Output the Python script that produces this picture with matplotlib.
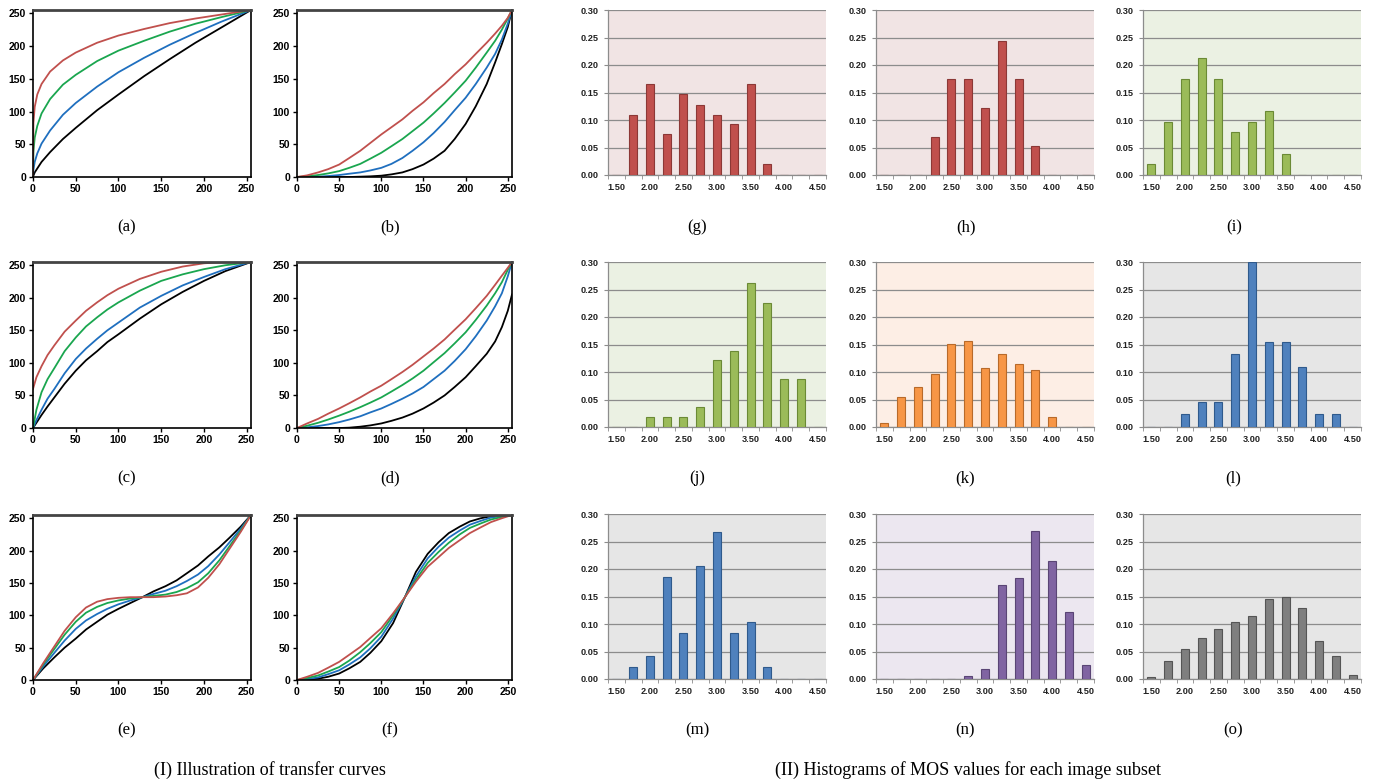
import matplotlib.pyplot as plt

W, H = 1374, 783

# ---- transfer curves (input level -> output level) ----
a_x = [0, 0.5, 2, 5, 10, 20, 35, 50, 75, 100, 130, 160, 190, 220, 255]
a_red = [0, 83, 107, 126, 142, 161, 178, 190, 205, 216, 226, 235, 242, 248, 255]
a_green = [0, 39, 60, 78, 97, 119, 141, 156, 177, 193, 208, 222, 234, 244, 255]
a_blue = [0, 11, 23, 36, 51, 71, 95, 113, 138, 160, 182, 202, 220, 237, 255]
a_black = [0, 2, 7, 13, 23, 38, 58, 75, 102, 126, 154, 180, 205, 228, 255]

b_x = [0, 12, 25, 37, 50, 62, 75, 87, 100, 112, 125, 137, 150, 162, 175, 187, 200, 212, 225, 235, 243, 250, 255]
b_red = [0, 2.5, 7, 12, 19, 29, 40, 52, 65, 76, 88, 101, 114, 128, 142, 157, 172, 188, 205, 219, 231, 243, 255]
b_green = [0, 1, 3, 5.5, 9, 14, 20, 28, 37, 47, 58, 70, 83, 97, 113, 129, 147, 167, 190, 208, 225, 242, 255]
b_blue = [0, 0, 0.5, 1.5, 3, 5, 7, 10, 14, 20, 29, 40, 53, 67, 84, 102, 121, 142, 167, 188, 210, 234, 255]
b_black = [0, 0, 0, 0, 0, 0, 0.5, 1, 2, 4, 7, 12, 19, 28, 40, 58, 81, 108, 142, 175, 203, 229, 255]

c_x = [0, 4, 10, 17, 25, 37, 50, 62, 75, 87, 100, 125, 150, 175, 200, 225, 255]
c_red = [60, 78, 95, 112, 127, 148, 165, 180, 193, 204, 214, 229, 240, 248, 253, 255, 255]
c_green = [0, 28, 55, 75, 92, 118, 139, 156, 170, 182, 193, 211, 226, 236, 244, 250, 255]
c_blue = [0, 12, 28, 45, 60, 84, 106, 122, 137, 150, 162, 185, 203, 219, 232, 244, 255]
c_black = [0, 8, 20, 33, 47, 68, 88, 104, 118, 132, 144, 168, 190, 209, 226, 241, 255]

d_x = [0, 12, 25, 37, 50, 62, 75, 87, 100, 112, 125, 137, 150, 162, 175, 187, 200, 212, 225, 235, 243, 250, 255]
d_red = [0, 7, 14, 22, 30, 38, 47, 56, 65, 75, 86, 97, 110, 122, 136, 151, 167, 184, 203, 220, 234, 246, 255]
d_green = [0, 3.5, 8, 13, 19, 25, 32, 39, 47, 56, 66, 76, 88, 101, 115, 130, 147, 166, 188, 207, 224, 243, 255]
d_blue = [0, 1, 3, 5.5, 9, 13, 18, 24, 30, 37, 45, 53, 63, 75, 88, 103, 121, 141, 165, 187, 207, 233, 255]
d_black = [0, 0, 0, 0, 0, 0.5, 2, 4, 7, 11, 16, 22, 30, 39, 50, 63, 78, 95, 114, 133, 155, 180, 205]

e_x = [0, 12, 25, 37, 50, 62, 75, 87, 100, 114, 128, 141, 155, 168, 180, 193, 205, 218, 230, 243, 255]
e_red = [0, 26, 52, 76, 97, 112, 121, 125, 127, 128, 128, 128, 129, 131, 134, 143, 158, 179, 203, 229, 255]
e_green = [0, 24, 48, 70, 90, 104, 113, 119, 123, 126, 128, 130, 132, 136, 142, 151, 165, 185, 207, 231, 255]
e_blue = [0, 21, 42, 61, 79, 92, 102, 110, 117, 123, 128, 133, 138, 145, 153, 163, 176, 194, 213, 234, 255]
e_black = [0, 18, 35, 50, 64, 78, 90, 101, 110, 119, 128, 137, 145, 154, 165, 177, 191, 205, 220, 237, 255]

f_x = [0, 12, 25, 37, 50, 62, 75, 87, 100, 114, 128, 141, 155, 168, 180, 193, 205, 218, 230, 243, 255]
f_red = [0, 5, 11, 19, 28, 39, 51, 65, 80, 103, 128, 152, 175, 190, 204, 216, 227, 236, 244, 250, 255]
f_green = [0, 3, 7, 13, 20, 30, 43, 57, 74, 100, 128, 155, 181, 198, 212, 225, 235, 242, 248, 252, 255]
f_blue = [0, 1.5, 4, 9, 15, 24, 35, 49, 67, 95, 128, 160, 188, 206, 220, 231, 240, 246, 251, 253.5, 255]
f_black = [0, 0.5, 2, 5, 10, 18, 28, 42, 60, 88, 128, 167, 195, 213, 227, 237, 245, 250, 253, 254.5, 255]

# ---- MOS histograms ----
mos_bins = ['1.50', '1.75', '2.00', '2.25', '2.50', '2.75', '3.00',
            '3.25', '3.50', '3.75', '4.00', '4.25', '4.50']
g_vals = [0, 0.110, 0.165, 0.075, 0.147, 0.128, 0.110, 0.092, 0.165, 0.020, 0, 0, 0]
h_vals = [0, 0, 0, 0.070, 0.174, 0.174, 0.122, 0.243, 0.174, 0.053, 0, 0, 0]
i_vals = [0.020, 0.097, 0.175, 0.213, 0.175, 0.078, 0.097, 0.117, 0.039, 0, 0, 0, 0]
j_vals = [0, 0, 0.018, 0.018, 0.018, 0.036, 0.122, 0.139, 0.261, 0.226, 0.087, 0.087, 0]
k_vals = [0.007, 0.054, 0.072, 0.097, 0.151, 0.157, 0.108, 0.133, 0.115, 0.103, 0.019, 0, 0]
l_vals = [0, 0, 0.023, 0.045, 0.045, 0.132, 0.300, 0.155, 0.155, 0.110, 0.023, 0.023, 0]
m_vals = [0, 0.022, 0.042, 0.185, 0.084, 0.205, 0.267, 0.084, 0.104, 0.022, 0, 0, 0]
n_vals = [0, 0, 0, 0, 0, 0.006, 0.019, 0.171, 0.184, 0.269, 0.214, 0.122, 0.025]
o_vals = [0.003, 0.033, 0.055, 0.074, 0.091, 0.103, 0.114, 0.145, 0.150, 0.130, 0.069, 0.041, 0.007]

RED, GREEN, BLUE = '#c0504d', '#1aa64f', '#1f6fbf'
serif = ['Liberation Serif', 'DejaVu Serif']
curve_font = {'family': 'Liberation Sans', 'weight': 'bold', 'size': 7.5}
hist_font = {'family': 'Liberation Sans', 'weight': 'bold', 'size': 6.6}

fig = plt.figure(figsize=(W / 100, H / 100), dpi=100)


def px_axes(left, top, right, bottom):
    return fig.add_axes([left / W, 1 - bottom / H, (right - left) / W, (bottom - top) / H])


def curve_panel(left, top, right, bottom, x, red, green, blue, black, label, cap_x, cap_y):
    ax = px_axes(left, top, right, bottom)
    ax.plot(x, black, color='black', lw=1.3)
    ax.plot(x, blue, color=BLUE, lw=1.3)
    ax.plot(x, green, color=GREEN, lw=1.3)
    ax.plot(x, red, color=RED, lw=1.3)
    ax.set_xlim(0, 255)
    ax.set_ylim(0, 255)
    ax.set_xticks([0, 50, 100, 150, 200, 250])
    ax.set_yticks([0, 50, 100, 150, 200, 250])
    for s in ax.spines.values():
        s.set_linewidth(1.2)
    ax.spines['top'].set_linewidth(2)
    ax.spines['top'].set_color('#444444')
    ax.tick_params(length=3, width=1, pad=2)
    for t in ax.get_xticklabels() + ax.get_yticklabels():
        t.set_fontproperties(curve_font)
    fig.text(cap_x / W, 1 - cap_y / H, label, family=serif, fontsize=12,
             ha='center', va='center')


def hist_panel(left, top, right, bottom, vals, color, edge, bg, label, cap_x, cap_y):
    ax = px_axes(left, top, right, bottom)
    ax.set_facecolor(bg)
    pos = list(range(len(mos_bins)))
    ax.bar(pos, vals, width=0.48, color=color, edgecolor=edge, linewidth=0.8, zorder=3)
    ax.set_xlim(-0.5, len(mos_bins) - 0.5)
    ax.set_ylim(0, 0.30)
    ax.set_yticks([0, 0.05, 0.10, 0.15, 0.20, 0.25, 0.30])
    ax.set_yticklabels(['%.2f' % v for v in [0, 0.05, 0.10, 0.15, 0.20, 0.25, 0.30]])
    ax.set_xticks(pos[::2])
    ax.set_xticklabels(mos_bins[::2])
    ax.set_xticks([p + 0.5 for p in range(-1, len(mos_bins))], minor=True)
    ax.grid(axis='y', color='#8c8c8c', lw=0.9, zorder=0)
    ax.set_axisbelow(True)
    for side in ['top', 'right']:
        ax.spines[side].set_visible(False)
    for side in ['left', 'bottom']:
        ax.spines[side].set_color('#8c8c8c')
        ax.spines[side].set_linewidth(0.9)
    ax.tick_params(axis='x', which='major', length=0, pad=6)
    ax.tick_params(axis='x', which='minor', length=3, color='#8c8c8c')
    ax.tick_params(axis='y', length=3, color='#8c8c8c', pad=4)
    for t in ax.get_xticklabels() + ax.get_yticklabels():
        t.set_fontproperties(hist_font)
        t.set_color('#222222')
    fig.text(cap_x / W, 1 - cap_y / H, label, family=serif, fontsize=12,
             ha='center', va='center')


# left block: transfer curves
curve_panel(33, 10, 251, 177, a_x, a_red, a_green, a_blue, a_black, '(a)', 127, 227)
curve_panel(297, 10, 512, 177, b_x, b_red, b_green, b_blue, b_black, '(b)', 390, 227)
curve_panel(33, 262, 251, 428, c_x, c_red, c_green, c_blue, c_black, '(c)', 127, 478)
curve_panel(297, 262, 512, 428, d_x, d_red, d_green, d_blue, d_black, '(d)', 390, 478)
curve_panel(33, 515, 251, 680, e_x, e_red, e_green, e_blue, e_black, '(e)', 127, 730)
curve_panel(297, 515, 512, 680, f_x, f_red, f_green, f_blue, f_black, '(f)', 390, 730)

# right block: histograms
PINK, LGREEN, PEACH, GRAY, LAV = '#f1e4e4', '#ebf1e3', '#fdeee5', '#e6e6e6', '#ece7f0'
hist_panel(608, 10, 826, 175, g_vals, '#c0504d', '#8c3836', PINK, '(g)', 697, 227)
hist_panel(876, 10, 1094, 175, h_vals, '#c0504d', '#8c3836', PINK, '(h)', 966, 227)
hist_panel(1143, 10, 1361, 175, i_vals, '#9bbb59', '#6b8a35', LGREEN, '(i)', 1234, 227)
hist_panel(608, 262, 826, 427, j_vals, '#9bbb59', '#6b8a35', LGREEN, '(j)', 697, 478)
hist_panel(876, 262, 1094, 427, k_vals, '#f79646', '#b86a2a', PEACH, '(k)', 965, 478)
hist_panel(1143, 262, 1361, 427, l_vals, '#4f81bd', '#2f5a8c', GRAY, '(l)', 1233, 478)
hist_panel(608, 514, 826, 679, m_vals, '#4f81bd', '#2f5a8c', GRAY, '(m)', 697, 730)
hist_panel(876, 514, 1094, 679, n_vals, '#8064a2', '#5a4575', LAV, '(n)', 965, 730)
hist_panel(1143, 514, 1361, 679, o_vals, '#7f7f7f', '#555555', GRAY, '(o)', 1233, 730)

fig.text(270 / W, 1 - 770 / H, '(I) Illustration of transfer curves',
         family=serif, fontsize=13, ha='center', va='center')
fig.text(968 / W, 1 - 770 / H, '(II) Histograms of MOS values for each image subset',
         family=serif, fontsize=13, ha='center', va='center')

fig.savefig('out.png', dpi=100)
